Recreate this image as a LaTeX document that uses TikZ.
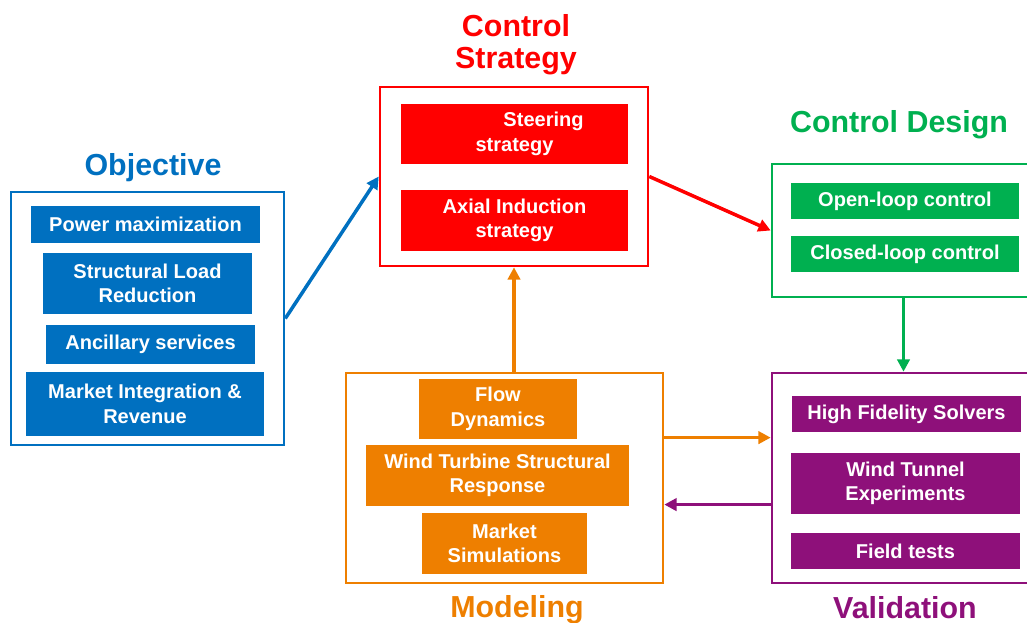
\documentclass[tikz,border=0pt]{standalone}
\usepackage{fontspec}
\setmainfont{Liberation Sans}
\usepackage{tikz}
\usetikzlibrary{calc,arrows.meta}
\definecolor{objblue}{RGB}{0,112,192}
\definecolor{ctrlred}{RGB}{255,0,0}
\definecolor{desgreen}{RGB}{0,176,80}
\definecolor{modorange}{RGB}{238,127,0}
\definecolor{valpurple}{RGB}{142,16,122}

\begin{document}
\begin{tikzpicture}[x=0.02cm, y=-0.02cm,
  groupbox/.style={draw=#1, line width=1.5pt, inner sep=0pt},
  item/.style={fill=#1, text=white, font=\fontsize{11.4}{14}\selectfont\bfseries, align=center, inner sep=0pt},
  heading/.style={text=#1, font=\fontsize{17.3}{18}\selectfont\bfseries, align=center, inner sep=0pt},
  link/.style={draw=#1, line width=2pt, -{Triangle[length=7pt,width=7pt]}}]
  \useasboundingbox (0,0) rectangle (1027,622);

  % Objective
  \node[heading=objblue, anchor=base] (objtitle) at (153,175) {Objective};
  \node[groupbox=objblue, minimum width=5.46cm, minimum height=5.06cm] (obj) at (147.5,318.5) {};
  \node[item=objblue, minimum width=4.58cm, minimum height=0.74cm] (power) at (145.5,224.5) {Power maximization};
  \node[item=objblue, minimum width=4.18cm, minimum height=1.22cm] (load) at (147.5,283.5) {Structural Load\\Reduction};
  \node[item=objblue, minimum width=4.18cm, minimum height=0.78cm] (ancil) at (150.5,344.5) {Ancillary services};
  \node[item=objblue, minimum width=4.76cm, minimum height=1.28cm] (market) at (145,404) {Market Integration \&\\Revenue};

  % Control strategy
  \node[heading=ctrlred, anchor=north] (cstitle) at (516,14) {Control\\Strategy};
  \node[groupbox=ctrlred, minimum width=5.36cm, minimum height=3.58cm] (cs) at (514,176.5) {};
  \node[item=ctrlred, minimum width=4.54cm, minimum height=1.2cm] (steer) at (514.5,134) {\hspace*{2.9em}Steering\\strategy};
  \node[item=ctrlred, minimum width=4.54cm, minimum height=1.22cm] (axial) at (514.5,220.5) {Axial Induction\\strategy};

  % Control design
  \node[heading=desgreen, anchor=base] (cdtitle) at (899,132) {Control Design};
  \node[groupbox=desgreen, minimum width=5.26cm, minimum height=2.66cm] (design) at (903.5,230.5) {};
  \node[item=desgreen, minimum width=4.56cm, minimum height=0.72cm] (open) at (905,201) {Open-loop control};
  \node[item=desgreen, minimum width=4.56cm, minimum height=0.72cm] (closed) at (905,254) {Closed-loop control};

  % Modeling
  \node[heading=modorange, anchor=base] (modtitle) at (517,617) {Modeling};
  \node[groupbox=modorange, minimum width=6.34cm, minimum height=4.2cm] (model) at (504.5,478) {};
  \node[item=modorange, minimum width=3.16cm, minimum height=1.2cm] (flow) at (498,409) {Flow\\Dynamics};
  \node[item=modorange, minimum width=5.26cm, minimum height=1.22cm] (struct) at (497.5,475.5) {Wind Turbine Structural\\Response};
  \node[item=modorange, minimum width=3.3cm, minimum height=1.22cm] (marksim) at (504.5,543.5) {Market\\Simulations};

  % Validation
  \node[heading=valpurple, anchor=base] (valtitle) at (905,618) {Validation};
  \node[groupbox=valpurple, minimum width=5.26cm, minimum height=4.2cm] (valid) at (903.5,478) {};
  \node[item=valpurple, minimum width=4.58cm, minimum height=0.72cm] (hifi) at (906.5,414) {High Fidelity Solvers};
  \node[item=valpurple, minimum width=4.58cm, minimum height=1.22cm] (tunnel) at (905.5,483.5) {Wind Tunnel\\Experiments};
  \node[item=valpurple, minimum width=4.58cm, minimum height=0.72cm] (field) at (905.5,551) {Field tests};

  % Links between blocks
  \draw[link=objblue] (obj.east) -- (cs.west);
  \draw[link=ctrlred] (cs.east) -- (design.west);
  \draw[link=desgreen] (design.south) -- (valid.north);
  \draw[link=modorange] (model.north -| cs.south) -- (cs.south);
  \draw[link=modorange] ($(model.north east)!0.31!(model.south east)$) -- ($(valid.north west)!0.31!(valid.south west)$);
  \draw[link=valpurple] ($(valid.north west)!0.625!(valid.south west)$) -- ($(model.north east)!0.625!(model.south east)$);
\end{tikzpicture}
\end{document}
